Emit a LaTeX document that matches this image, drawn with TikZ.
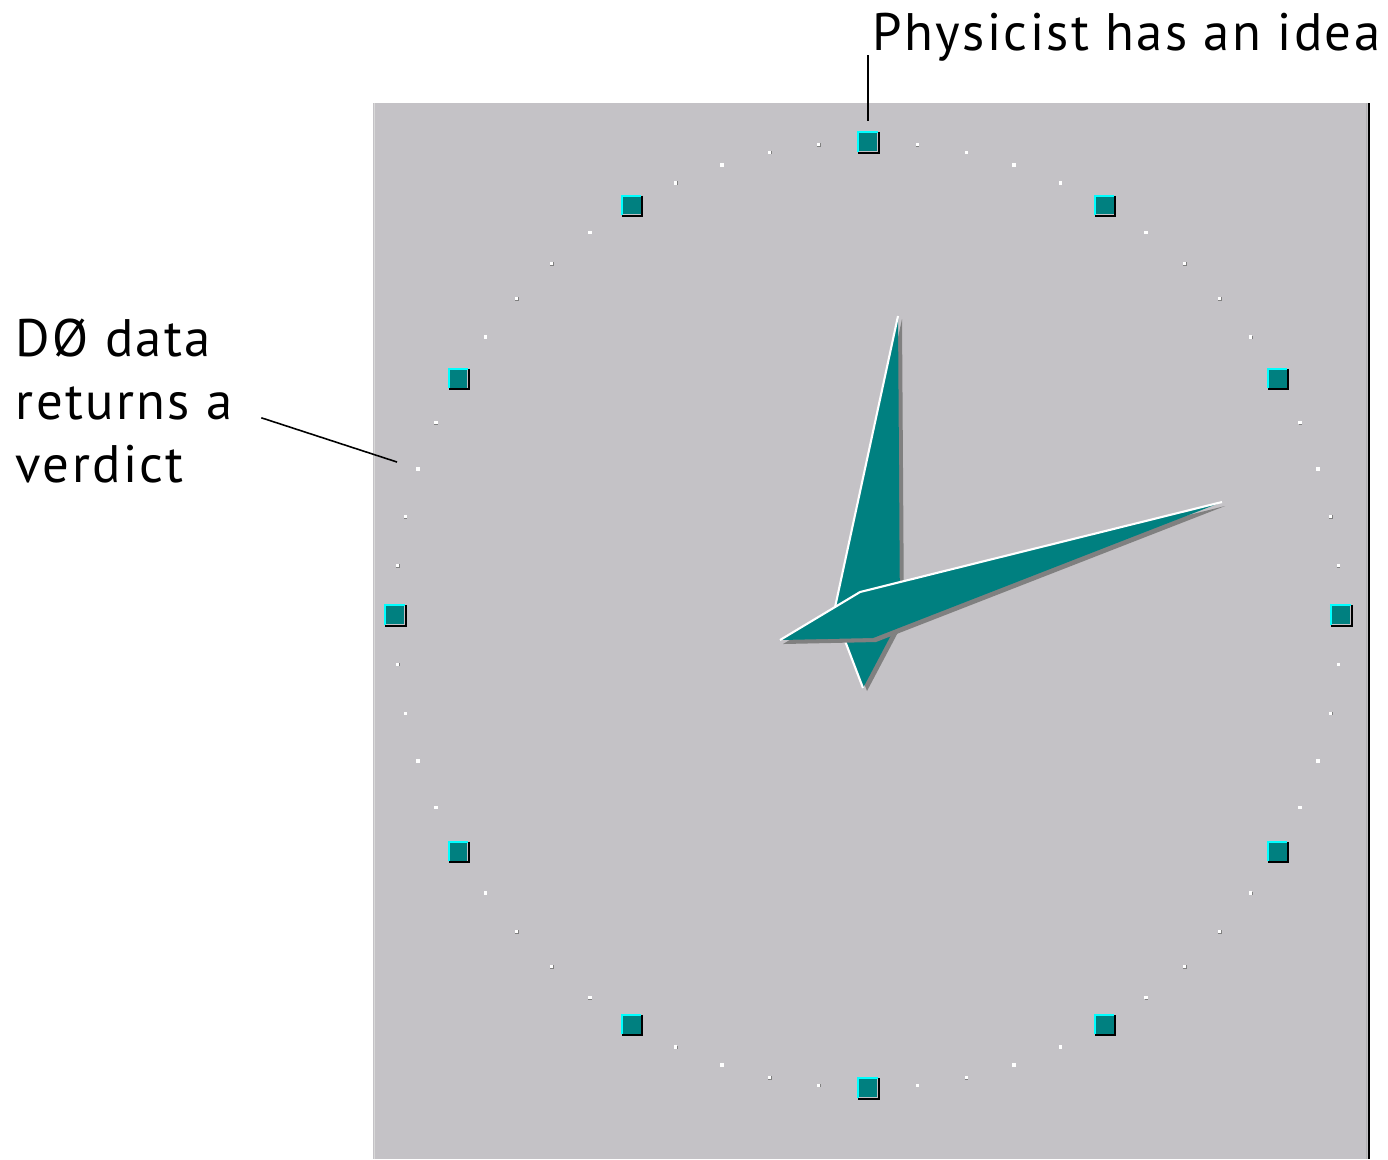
\documentclass[tikz,border=0pt]{standalone}
\usepackage{fontspec}
\setmainfont{PT Sans}[LetterSpace=4.5]
\usepackage{tikz}
\usetikzlibrary{positioning,calc}

\definecolor{facegray}{RGB}{196,194,198}
\definecolor{handteal}{RGB}{0,128,128}
\definecolor{markcyan}{RGB}{0,255,255}
\definecolor{handshadow}{RGB}{128,128,128}

\begin{document}
\begin{tikzpicture}[
    x=0.01cm, y=-0.01cm,
    caption/.style={font=\fontsize{15}{17.9}\selectfont, inner sep=0pt, align=left},
    leader/.style={black, line width=0.45pt},
    hourmark/.style={rectangle, fill=handteal, minimum size=0.18cm, inner sep=0pt},
    minutedot/.style={rectangle, fill=white, minimum size=0.035cm, inner sep=0pt},
    hand/.style={fill=handteal},
    handshade/.style={fill=handshadow},
    glint/.style={white, line width=0.6pt, line join=round}
]
    \useasboundingbox (0,0) rectangle (1388,1159);

    % clock face
    \fill[facegray] (372,103) rectangle (1370,1159);
    \draw[white, line width=0.6pt] (372,103) -- (372,1159);
    \draw[gray!30, line width=0.4pt] (374.5,103) -- (374.5,1159);
    \draw[gray!60, line width=0.4pt] (1366.5,103) -- (1366.5,1159);
    \draw[black, line width=0.6pt] (1369,103) -- (1369,1159);

    % dial
    \begin{scope}[shift={(868,615)}]
        \foreach \h in {0,...,11}{
            \node[hourmark] (h\h) at (-90+30*\h:473) {};
            \draw[markcyan, line width=0.5pt] (h\h.south west) -- (h\h.north west) -- (h\h.north east);
            \draw[black, line width=0.6pt] ([xshift=0.3pt]h\h.north east) -- ([xshift=0.3pt,yshift=-0.3pt]h\h.south east) -- ([yshift=-0.3pt]h\h.south west);
            \foreach \m in {1,...,4}{
                \fill[handshadow] ($(-90+30*\h+6*\m:473)+(-1.5,-1.5)$) rectangle +(3.5,3.5);
                \node[minutedot] (m\h-\m) at (-90+30*\h+6*\m:473) {};
            }
        }
    \end{scope}

    % minute hand
    \fill[handshade, shift={(4,3)}] (898,316) -- (900,618) -- (863,688) -- (834,612) -- cycle;
    \fill[hand] (898,316) -- (900,618) -- (863,688) -- (834,612) -- cycle;
    \draw[glint] (898,316) -- (834,612) -- (863,688);

    % hour hand
    \fill[handshade, shift={(3,4)}] (780,640) -- (860,592) -- (1222,502) -- (873,638) -- cycle;
    \fill[hand] (780,640) -- (860,592) -- (1222,502) -- (873,638) -- cycle;
    \draw[glint] (780,640) -- (860,592) -- (1222,502);

    % captions
    \node[caption, anchor=base west] (idea) at (872,50) {Physicist has an idea};
    \node[caption, anchor=north west] (verdict) at (15,318) {DØ data\\returns a\\verdict};
    \coordinate (verdictTip) at (397,462);

    \draw[leader] ($(idea.base -| h0)+(0,5)$) -- ($(h0.north)+(0,-11)$);
    \draw[leader] ($(verdict.east)+(28,17)$) -- (verdictTip);
\end{tikzpicture}
\end{document}
